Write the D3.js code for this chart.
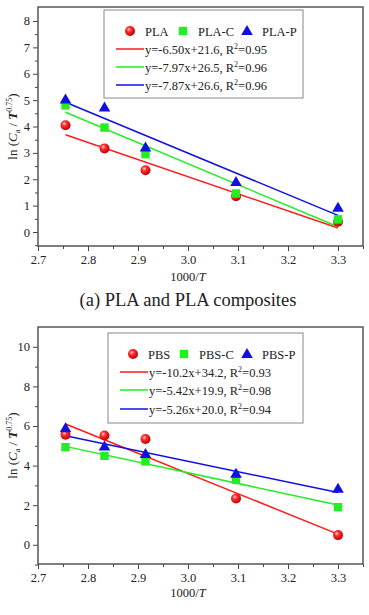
<!DOCTYPE html>
<html><head><meta charset="utf-8">
<script src="https://cdn.jsdelivr.net/npm/d3@7/dist/d3.min.js"></script>
<style>
body{margin:0;background:#fff;}
svg{display:block;}
svg text{font-family:'Liberation Serif','DejaVu Serif',serif !important;}
</style></head>
<body><svg id="c" width="369" height="615"></svg>
<script>
// ---- data ----
const xValues = [2.755, 2.833, 2.915, 3.096, 3.30];
const xTicks = [2.7, 2.8, 2.9, 3.0, 3.1, 3.2, 3.3];

// (a) PLA
const plaNames = ["PLA", "PLA-C", "PLA-P"];
const plaY  = [4.05, 3.17, 2.34, 1.36, 0.39];
const plaCY = [4.80, 3.96, 2.95, 1.46, 0.48];
const plaPY = [5.02, 4.72, 3.20, 1.90, 0.92];
const plaFitX = [2.755, 3.30];
const plaFit  = [3.69, 0.15];
const plaCFit = [4.54, 0.20];
const plaPFit = [4.92, 0.63];
const plaEq = ["y=-6.50x+21.6, R", "y=-7.97x+26.5, R", "y=-7.87x+26.6, R"];
const plaR2 = ["0.95", "0.96", "0.96"];
const plaYTicks = [0, 1, 2, 3, 4, 5, 6, 7, 8];

// (b) PBS
const pbsNames = ["PBS", "PBS-C", "PBS-P"];
const pbsY  = [5.56, 5.52, 5.34, 2.34, 0.49];
const pbsCY = [4.93, 4.49, 4.21, 3.28, 1.90];
const pbsPY = [5.89, 4.97, 4.58, 3.59, 2.83];
const pbsFitX = [2.755, 3.30];
const pbsFit  = [6.10, 0.54];
const pbsCFit = [4.97, 2.01];
const pbsPFit = [5.51, 2.64];
const pbsEq = ["y=-10.2x+34.2, R", "y=-5.42x+19.9, R", "y=-5.26x+20.0, R"];
const pbsR2 = ["0.93", "0.98", "0.94"];
const pbsYTicks = [0, 2, 4, 6, 8, 10];

const colors = ["#ff1a1a", "#22ee22", "#1010e0"];
const FONT = "'Liberation Serif','DejaVu Serif',serif";

const svg = d3.select("#c");
const defs = svg.append("defs");
const grad = defs.append("radialGradient").attr("id", "ballRed")
  .attr("cx", "38%").attr("cy", "35%").attr("r", "65%");
grad.append("stop").attr("offset", "0%").attr("stop-color", "#ffd0d0");
grad.append("stop").attr("offset", "35%").attr("stop-color", "#ff3030");
grad.append("stop").attr("offset", "100%").attr("stop-color", "#c00000");

function marker(g, type, x, y) {
  if (type === 0) {
    g.append("circle").attr("cx", x).attr("cy", y).attr("r", 5).attr("fill", "url(#ballRed)");
  } else if (type === 1) {
    g.append("rect").attr("x", x - 4.2).attr("y", y - 4.2).attr("width", 8.4).attr("height", 8.4).attr("fill", colors[1]);
  } else {
    g.append("path").attr("d", `M${x},${y - 6}L${x + 5.8},${y + 4}L${x - 5.8},${y + 4}Z`).attr("fill", colors[2]);
  }
}

function panel(opt) {
  const x = d3.scaleLinear().domain([2.7, 3.35]).range([38, 363]);
  const y = d3.scaleLinear().domain(opt.yDomain).range([opt.bottom, opt.top]);
  const g = svg.append("g").attr("font-family", FONT);

  // minor ticks
  const xMinor = d3.range(2.75, 3.35, 0.1);
  g.append("g").attr("transform", `translate(0,${opt.bottom})`)
    .call(d3.axisBottom(x).tickValues(xMinor).tickSize(3).tickFormat(""))
    .call(a => a.select(".domain").remove());
  g.append("g").attr("transform", `translate(38,0)`)
    .call(d3.axisLeft(y).tickValues(opt.yMinor).tickSize(3).tickFormat(""))
    .call(a => a.select(".domain").remove());

  const xa = g.append("g").attr("transform", `translate(0,${opt.bottom})`)
    .call(d3.axisBottom(x).tickValues(xTicks).tickSize(5).tickPadding(4).tickFormat(d3.format(".1f")));
  xa.select(".domain").remove();
  const ya = g.append("g").attr("transform", `translate(38,0)`)
    .call(d3.axisLeft(y).tickValues(opt.yTicks).tickSize(5).tickPadding(3).tickFormat(d3.format("d")));
  ya.select(".domain").remove();
  g.selectAll("g").attr("font-family", FONT);
  g.selectAll(".tick text").attr("font-size", 12.5).attr("fill", "#222");
  g.selectAll(".tick line").attr("stroke", "#444").attr("stroke-width", 1);

  // frame
  g.append("rect").attr("x", 38).attr("y", opt.top).attr("width", 325).attr("height", opt.bottom - opt.top)
    .attr("fill", "none").attr("stroke", "#555").attr("stroke-width", 1.5);

  // fit lines
  opt.fits.forEach((f, i) => {
    g.append("line").attr("x1", x(opt.fitX[0])).attr("y1", y(f[0]))
      .attr("x2", x(opt.fitX[1])).attr("y2", y(f[1]))
      .attr("stroke", colors[i]).attr("stroke-width", 1.5);
  });
  // markers
  opt.series.forEach((s, i) => {
    s.forEach((v, j) => marker(g, i, x(xValues[j]), y(v)));
  });

  // legend
  const L = opt.legend;
  g.append("rect").attr("x", L.x0).attr("y", L.y0).attr("width", L.x1 - L.x0).attr("height", L.y1 - L.y0)
    .attr("fill", "#fff").attr("stroke", "#888").attr("stroke-width", 1);
  opt.names.forEach((n, i) => {
    marker(g, i, L.sym[i], L.rows[0]);
    g.append("text").attr("x", L.sym[i] + 15).attr("y", L.rows[0] + 4.5)
      .attr("font-size", 12.5).attr("fill", "#222").text(n);
  });
  opt.eq.forEach((e, i) => {
    const ry = L.rows[i + 1];
    g.append("line").attr("x1", L.lx0).attr("x2", L.lx1).attr("y1", ry).attr("y2", ry)
      .attr("stroke", colors[i]).attr("stroke-width", 1.5);
    const t = g.append("text").attr("x", L.lx1 + 1).attr("y", ry + 4.5).attr("font-size", 12.5).attr("fill", "#222");
    t.append("tspan").text(e);
    t.append("tspan").attr("font-size", 8).attr("dy", -5).text("2");
    t.append("tspan").attr("dy", 5).text("=" + opt.r2[i]);
  });

  // axis titles
  const xt = g.append("text").attr("x", 188).attr("y", opt.xTitleY).attr("text-anchor", "middle")
    .attr("font-size", 12.5).attr("fill", "#222");
  xt.append("tspan").text("1000/");
  xt.append("tspan").attr("font-style", "italic").text("T");

  const cy = (opt.top + opt.bottom) / 2;
  const yt = g.append("text").attr("transform", `translate(17,${cy}) rotate(-90)`)
    .attr("text-anchor", "middle").attr("font-size", 13).attr("fill", "#222");
  yt.append("tspan").text("ln (");
  yt.append("tspan").attr("font-style", "italic").text("C");
  yt.append("tspan").attr("font-size", 8).attr("dy", 3).text("a");
  yt.append("tspan").attr("dy", -3).text(" / ");
  yt.append("tspan").attr("font-style", "italic").attr("font-weight", "bold").text("T");
  yt.append("tspan").attr("font-size", 8).attr("dy", -5).text("0.75");
  yt.append("tspan").attr("dy", 5).text(")");
}

panel({
  top: 7, bottom: 246, yDomain: [-0.53, 8.53],
  yTicks: plaYTicks, yMinor: d3.range(0.5, 8.5, 1).concat([-0.5]),
  series: [plaY, plaCY, plaPY], fitX: plaFitX, fits: [plaFit, plaCFit, plaPFit],
  names: plaNames, eq: plaEq, r2: plaR2, xTitleY: 281,
  legend: {x0: 104, x1: 303, y0: 10, y1: 98, rows: [31, 49, 67, 85], sym: [130, 183, 247], lx0: 116, lx1: 144}
});

panel({
  top: 327, bottom: 564, yDomain: [-0.97, 11.0],
  yTicks: pbsYTicks, yMinor: [-1, 1, 3, 5, 7, 9],
  series: [pbsY, pbsCY, pbsPY], fitX: pbsFitX, fits: [pbsFit, pbsCFit, pbsPFit],
  names: pbsNames, eq: pbsEq, r2: pbsR2, xTitleY: 597,
  legend: {x0: 108, x1: 303, y0: 333, y1: 423, rows: [354, 372, 390, 409], sym: [133, 184, 247], lx0: 120, lx1: 148}
});

svg.append("text").attr("x", 188).attr("y", 306).attr("text-anchor", "middle")
  .attr("font-family", FONT)
  .attr("font-size", 18.5).attr("fill", "#222").text("(a) PLA and PLA composites");
</script>
</body></html>
